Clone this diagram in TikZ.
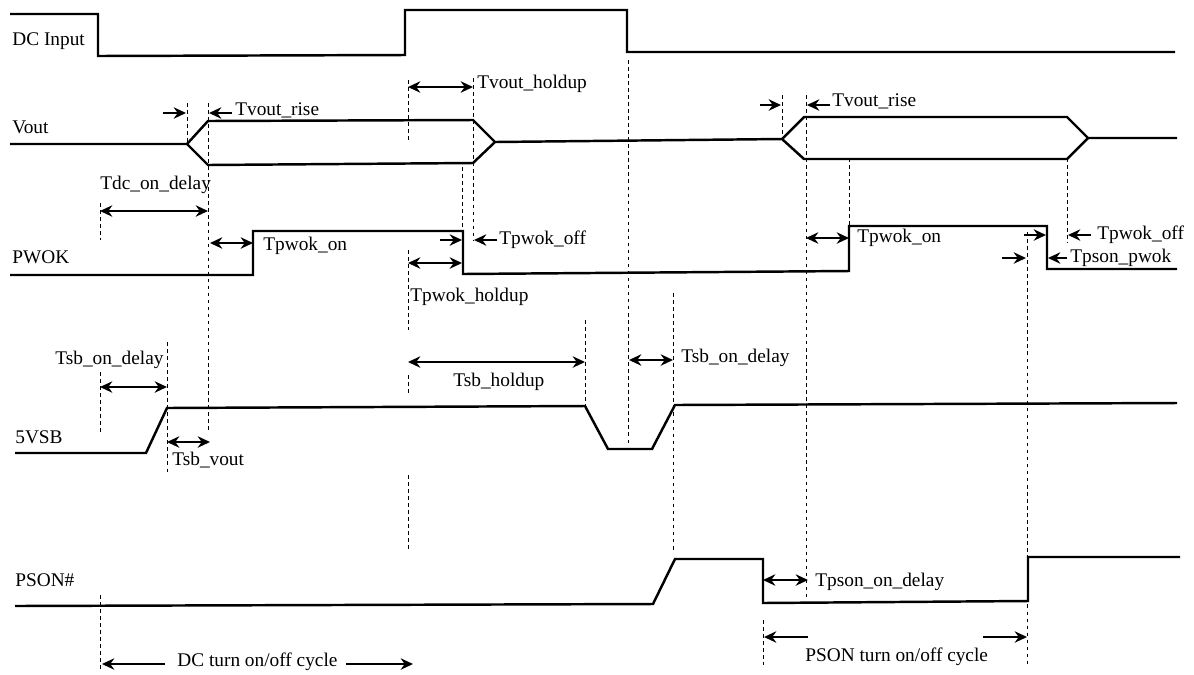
\documentclass[tikz,border=0pt]{standalone}
\usepackage{fontspec}
\setmainfont{Liberation Serif}
\usetikzlibrary{arrows.meta}

\begin{document}
\begin{tikzpicture}[x=0.02cm,y=-0.02cm,
    sig/.style={line width=1.4pt,line join=miter},
    guide/.style={line width=0.4pt,dash pattern=on 2pt off 2pt},
    dim/.style={line width=1.1pt,{Stealth[length=7pt,width=6.5pt]}-{Stealth[length=7pt,width=6.5pt]}},
    toright/.style={line width=1.1pt,-{Stealth[length=7pt,width=6.5pt]}},
    txt/.style={anchor=west,inner sep=0pt,font=\fontsize{11}{13}\selectfont}]
                \useasboundingbox (0,0) rectangle (1194,674);
                % signal traces
                \draw[sig] (10,14) -- (98,14) -- (98,56) -- (405,55) -- (405,10) -- (627,10) -- (627,52) -- (1175,52);
                \draw[sig] (10,144) -- (187,144) -- (208,121) -- (473,120) -- (495,142) -- (782,139) -- (804,117) -- (1067,117) -- (1088,138) -- (1177,138);
                \draw[sig] (187,144) -- (208,165) -- (473,163) -- (495,142);
                \draw[sig] (782,139) -- (804,159) -- (1067,159) -- (1088,138);
                \draw[sig] (10,275) -- (253,275) -- (253,231) -- (463,231) -- (463,274) -- (849,271) -- (849,226) -- (1047,226) -- (1047,269) -- (1177,269);
                \draw[sig] (15,453) -- (146,453) -- (167,408) -- (585,406) -- (608,449) -- (652,449) -- (675,405) -- (1177,403);
                \draw[sig] (15,606) -- (653,604) -- (675,559) -- (763,559) -- (763,603) -- (1028,601) -- (1028,557) -- (1180,557);
                \node[txt] (dcin) at (12,41) {DC Input};
                \node[txt] (vout) at (12,127) {Vout};
                \node[txt] (pwok) at (12,257) {PWOK};
                \node[txt] (vsb) at (15,437) {5VSB};
                \node[txt] (pson) at (15,580) {PSON\#};
                % guide lines
                \draw[guide] (187,103) -- (187,144);
                \draw[guide] (208,103) -- (208,430);
                \draw[guide] (100,203) -- (100,240);
                \draw[guide] (100,372) -- (100,432);
                \draw[guide] (100,595) -- (100,672);
                \draw[guide] (167,342) -- (167,473);
                \draw[guide] (408,80) -- (408,140);
                \draw[guide] (408,250) -- (408,330);
                \draw[guide] (408,375) -- (408,395);
                \draw[guide] (408,475) -- (408,550);
                \draw[guide] (462,167) -- (462,230);
                \draw[guide] (473,78) -- (473,240);
                \draw[guide] (585,320) -- (585,405);
                \draw[guide] (628,60) -- (628,443);
                \draw[guide] (673,293) -- (673,552);
                \draw[guide] (782,95) -- (782,139);
                \draw[guide] (806,95) -- (806,600);
                \draw[guide] (849,158) -- (849,225);
                \draw[guide] (1067,158) -- (1067,243);
                \draw[guide] (1027,232) -- (1027,665);
                \draw[guide] (763,620) -- (763,665);
                % timing marks
                \draw[toright] (163,113) -- (186,113);
                \draw[toright] (232,113) -- (209,113);
                \node[txt] (tvr1) at (235,110) {Tvout\_rise};
                \draw[dim] (100,211) -- (208,211);
                \node[txt] (tdc) at (100,185) {Tdc\_on\_delay};
                \draw[dim] (408,87) -- (473,87);
                \node[txt] (tvh) at (477,84) {Tvout\_holdup};
                \draw[toright] (760,105) -- (781,105);
                \draw[toright] (830,105) -- (807,105);
                \node[txt] (tvr2) at (832,101) {Tvout\_rise};
                \draw[dim] (210,243) -- (253,243);
                \node[txt] (tpon1) at (263,246) {Tpwok\_on};
                \draw[toright] (440,240) -- (462,240);
                \draw[toright] (497,240) -- (474,240);
                \node[txt] (tpoff1) at (499,240) {Tpwok\_off};
                \draw[dim] (408,263) -- (462,263);
                \node[txt] (tph) at (410,297) {Tpwok\_holdup};
                \draw[dim] (806,238) -- (849,238);
                \node[txt] (tpon2) at (857,238) {Tpwok\_on};
                \draw[toright] (1024,235) -- (1046,235);
                \draw[toright] (1091,235) -- (1068,235);
                \node[txt] (tpoff2) at (1097,235) {Tpwok\_off};
                \draw[toright] (1002,258) -- (1026,258);
                \draw[toright] (1067,258) -- (1048,258);
                \node[txt] (tpsp) at (1070,258) {Tpson\_pwok};
                \draw[dim] (100,387) -- (167,387);
                \node[txt] (tsbd1) at (55,360) {Tsb\_on\_delay};
                \draw[dim] (167,442) -- (210,442);
                \node[txt] (tsbv) at (172,460) {Tsb\_vout};
                \draw[dim] (408,362) -- (585,362);
                \node[txt] (tsbh) at (453,382) {Tsb\_holdup};
                \draw[dim] (629,360) -- (673,360);
                \node[txt] (tsbd2) at (681,358) {Tsb\_on\_delay};
                \draw[dim] (763,580) -- (808,580);
                \node[txt] (tpsd) at (815,582) {Tpson\_on\_delay};
                % cycles
                \draw[toright] (165,664) -- (102,664);
                \draw[toright] (346,664) -- (413,664);
                \node[txt] (dccyc) at (177,662) {DC turn on/off cycle};
                \draw[toright] (808,637) -- (764,637);
                \draw[toright] (983,637) -- (1027,637);
                \node[txt] (pscyc) at (805,657) {PSON turn on/off cycle};
            \end{tikzpicture}
\end{document}
